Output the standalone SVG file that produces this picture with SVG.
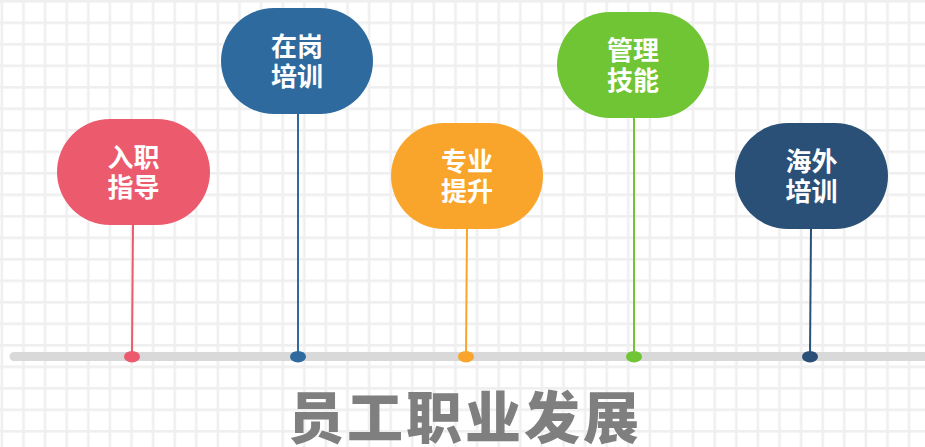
<svg xmlns="http://www.w3.org/2000/svg" width="925" height="447" viewBox="0 0 925 447">
<defs>
<pattern id="grid" x="0" y="0" width="21.6" height="21.5" patternUnits="userSpaceOnUse">
<rect x="0.6" y="0" width="2.6" height="21.5" fill="#efefef"/>
<rect x="0" y="0" width="21.6" height="2.6" fill="#efefef"/>
</pattern>
<style>
.lbl{font-family:"Noto Sans CJK SC","Noto Sans",sans-serif;font-weight:700;font-size:26px;fill:#ffffff;text-anchor:middle}
.title{font-family:"Noto Sans CJK SC","Noto Sans",sans-serif;font-weight:900;font-size:56px;fill:#7f7f7f;text-anchor:middle;letter-spacing:3px}
.stem{stroke-width:2}
</style>
</defs>
<rect width="925" height="447" fill="#ffffff"/>
<rect width="925" height="447" fill="url(#grid)"/>
<g id="timeline">
<line x1="14" y1="356.5" x2="925" y2="356.5" stroke="#d9d9d9" stroke-width="9" stroke-linecap="round"/>
</g>
<g id="connectors">
<line class="stem" x1="133" y1="224" x2="132" y2="356" stroke="#ec5a6e"/>
<line class="stem" x1="298" y1="113" x2="298" y2="356" stroke="#2e6a9e"/>
<line class="stem" x1="467" y1="228" x2="466" y2="356" stroke="#f9a52b"/>
<line class="stem" x1="634" y1="117" x2="634" y2="356" stroke="#70c535"/>
<line class="stem" x1="811" y1="227" x2="810" y2="356" stroke="#2a5078"/>
</g>
<g id="dots">
<ellipse cx="132" cy="356.7" rx="8" ry="5.8" fill="#ec5a6e"/>
<ellipse cx="298" cy="356.7" rx="8" ry="5.8" fill="#2e6a9e"/>
<ellipse cx="466" cy="356.7" rx="8" ry="5.8" fill="#f9a52b"/>
<ellipse cx="634" cy="356.7" rx="8" ry="5.8" fill="#70c535"/>
<ellipse cx="810" cy="356.7" rx="8" ry="5.8" fill="#2a5078"/>
</g>
<g id="node1">
<rect x="57" y="119" width="153" height="106" rx="53" fill="#ec5a6e"/>
<text class="lbl" x="133.5" y="167">入职<tspan x="133.5" dy="30">指导</tspan></text>
</g>
<g id="node2">
<rect x="221" y="8" width="152" height="106" rx="53" fill="#2e6a9e"/>
<text class="lbl" x="297" y="56">在岗<tspan x="297" dy="30">培训</tspan></text>
</g>
<g id="node3">
<rect x="391" y="123" width="152" height="106" rx="53" fill="#f9a52b"/>
<text class="lbl" x="467" y="171">专业<tspan x="467" dy="30">提升</tspan></text>
</g>
<g id="node4">
<rect x="557" y="12" width="152" height="106" rx="53" fill="#70c535"/>
<text class="lbl" x="633" y="60">管理<tspan x="633" dy="30">技能</tspan></text>
</g>
<g id="node5">
<rect x="735" y="123" width="153" height="106" rx="53" fill="#2a5078"/>
<text class="lbl" x="811.5" y="171">海外<tspan x="811.5" dy="30">培训</tspan></text>
</g>
<g id="title">
<text class="title" x="465" y="438">员工职业发展</text>
</g>
</svg>
